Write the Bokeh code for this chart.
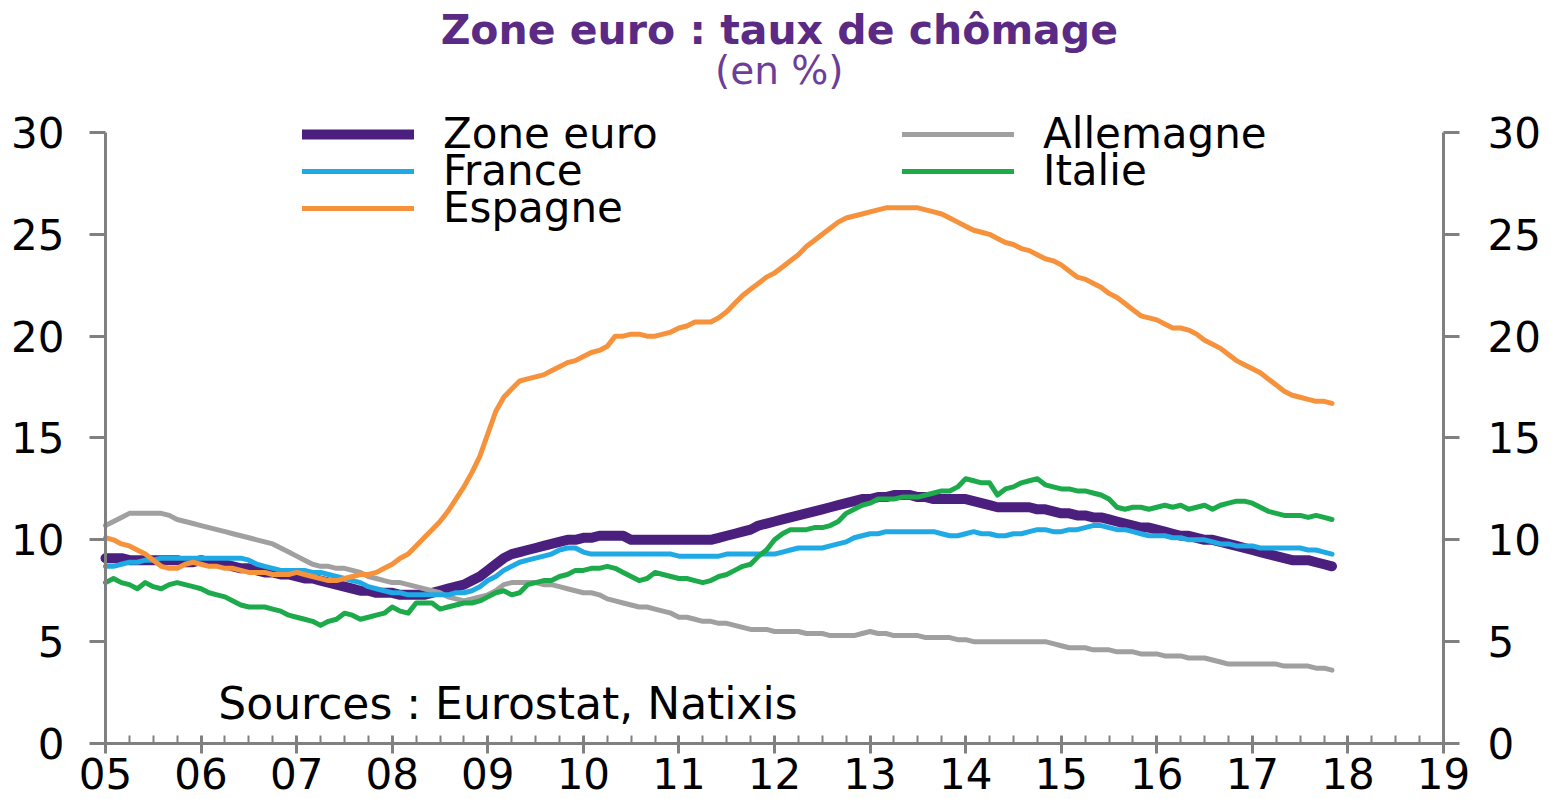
import numpy as np
from bokeh.plotting import figure
from bokeh.models import Range1d, LinearAxis, FixedTicker, Legend, LegendItem, Label
from bokeh.embed import file_html
from bokeh.resources import INLINE

# ---------------- data ----------------
title_text = "Zone euro : taux de chômage"
subtitle_text = "(en %)"
source_text = "Sources :  Eurostat, Natixis"

series_names = ["Zone euro", "France", "Espagne", "Allemagne", "Italie"]
start_year = 2005  # monthly data starting January 2005

year_ticks = list(range(2005, 2020))
year_labels = ["05", "06", "07", "08", "09", "10", "11", "12", "13", "14", "15", "16", "17", "18", "19"]
y_ticks = [0, 5, 10, 15, 20, 25, 30]

zone_euro = [
    9.1, 9.1, 9.1, 9.0, 9.0, 9.0, 9.0, 9.0, 9.0, 9.0, 8.9, 8.9,
    9.0, 8.9, 8.9, 8.8, 8.7, 8.6, 8.6, 8.5, 8.4, 8.4, 8.3, 8.3,
    8.2, 8.1, 8.1, 8.0, 7.9, 7.8, 7.7, 7.6, 7.5, 7.5, 7.4, 7.4,
    7.4, 7.3, 7.3, 7.3, 7.3, 7.4, 7.5, 7.6, 7.7, 7.8, 8.0, 8.2,
    8.5, 8.8, 9.1, 9.3, 9.4, 9.5, 9.6, 9.7, 9.8, 9.9, 10.0, 10.0,
    10.1, 10.1, 10.2, 10.2, 10.2, 10.2, 10.0, 10.0, 10.0, 10.0, 10.0, 10.0,
    10.0, 10.0, 10.0, 10.0, 10.0, 10.1, 10.2, 10.3, 10.4, 10.5, 10.7, 10.8,
    10.9, 11.0, 11.1, 11.2, 11.3, 11.4, 11.5, 11.6, 11.7, 11.8, 11.9, 12.0,
    12.0, 12.1, 12.1, 12.2, 12.2, 12.2, 12.1, 12.1, 12.0, 12.0, 12.0, 12.0,
    12.0, 11.9, 11.8, 11.7, 11.6, 11.6, 11.6, 11.6, 11.6, 11.5, 11.5, 11.4,
    11.3, 11.3, 11.2, 11.2, 11.1, 11.1, 11.0, 10.9, 10.8, 10.7, 10.6, 10.6,
    10.5, 10.4, 10.3, 10.2, 10.2, 10.1, 10.0, 10.0, 9.9, 9.8, 9.7, 9.6,
    9.5, 9.4, 9.3, 9.2, 9.1, 9.0, 9.0, 9.0, 8.9, 8.8, 8.7,
]

france = [
    8.7, 8.7, 8.8, 8.9, 8.9, 9.0, 9.0, 9.1, 9.1, 9.1, 9.1, 9.1,
    9.1, 9.1, 9.1, 9.1, 9.1, 9.1, 9.0, 8.8, 8.7, 8.6, 8.5, 8.5,
    8.5, 8.5, 8.4, 8.4, 8.3, 8.2, 8.1, 8.0, 7.9, 7.7, 7.6, 7.5,
    7.4, 7.4, 7.3, 7.3, 7.3, 7.3, 7.3, 7.3, 7.4, 7.4, 7.5, 7.7,
    8.0, 8.2, 8.5, 8.7, 8.9, 9.0, 9.1, 9.2, 9.3, 9.5, 9.6, 9.6,
    9.4, 9.3, 9.3, 9.3, 9.3, 9.3, 9.3, 9.3, 9.3, 9.3, 9.3, 9.3,
    9.2, 9.2, 9.2, 9.2, 9.2, 9.2, 9.3, 9.3, 9.3, 9.3, 9.3, 9.3,
    9.3, 9.4, 9.5, 9.6, 9.6, 9.6, 9.6, 9.7, 9.8, 9.9, 10.1, 10.2,
    10.3, 10.3, 10.4, 10.4, 10.4, 10.4, 10.4, 10.4, 10.4, 10.3, 10.2, 10.2,
    10.3, 10.4, 10.3, 10.3, 10.2, 10.2, 10.3, 10.3, 10.4, 10.5, 10.5, 10.4,
    10.4, 10.5, 10.5, 10.6, 10.7, 10.7, 10.6, 10.5, 10.5, 10.4, 10.3, 10.2,
    10.2, 10.2, 10.1, 10.1, 10.0, 10.0, 10.0, 9.9, 9.8, 9.8, 9.7, 9.7,
    9.7, 9.6, 9.6, 9.6, 9.6, 9.6, 9.6, 9.5, 9.5, 9.4, 9.3,
]

espagne = [
    10.1, 10.0, 9.8, 9.7, 9.5, 9.3, 9.0, 8.7, 8.6, 8.6, 8.8, 8.9,
    8.8, 8.7, 8.7, 8.6, 8.6, 8.5, 8.4, 8.4, 8.4, 8.3, 8.3, 8.3,
    8.4, 8.3, 8.2, 8.1, 8.0, 8.0, 8.1, 8.2, 8.3, 8.3, 8.4, 8.6,
    8.8, 9.1, 9.3, 9.7, 10.1, 10.5, 10.9, 11.4, 12.0, 12.6, 13.3, 14.1,
    15.2, 16.3, 17.0, 17.4, 17.8, 17.9, 18.0, 18.1, 18.3, 18.5, 18.7, 18.8,
    19.0, 19.2, 19.3, 19.5, 20.0, 20.0, 20.1, 20.1, 20.0, 20.0, 20.1, 20.2,
    20.4, 20.5, 20.7, 20.7, 20.7, 20.9, 21.2, 21.6, 22.0, 22.3, 22.6, 22.9,
    23.1, 23.4, 23.7, 24.0, 24.4, 24.7, 25.0, 25.3, 25.6, 25.8, 25.9, 26.0,
    26.1, 26.2, 26.3, 26.3, 26.3, 26.3, 26.3, 26.2, 26.1, 26.0, 25.8, 25.6,
    25.4, 25.2, 25.1, 25.0, 24.8, 24.6, 24.5, 24.3, 24.2, 24.0, 23.8, 23.7,
    23.5, 23.2, 22.9, 22.8, 22.6, 22.4, 22.1, 21.9, 21.6, 21.3, 21.0, 20.9,
    20.8, 20.6, 20.4, 20.4, 20.3, 20.1, 19.8, 19.6, 19.4, 19.1, 18.8, 18.6,
    18.4, 18.2, 17.9, 17.6, 17.3, 17.1, 17.0, 16.9, 16.8, 16.8, 16.7,
]

allemagne = [
    10.7, 10.9, 11.1, 11.3, 11.3, 11.3, 11.3, 11.3, 11.2, 11.0, 10.9, 10.8,
    10.7, 10.6, 10.5, 10.4, 10.3, 10.2, 10.1, 10.0, 9.9, 9.8, 9.6, 9.4,
    9.2, 9.0, 8.8, 8.7, 8.7, 8.6, 8.6, 8.5, 8.4, 8.2, 8.1, 8.0,
    7.9, 7.9, 7.8, 7.7, 7.6, 7.5, 7.4, 7.2, 7.1, 7.0, 7.1, 7.2,
    7.3, 7.5, 7.8, 7.9, 7.9, 7.9, 7.9, 7.8, 7.8, 7.7, 7.6, 7.5,
    7.4, 7.4, 7.3, 7.1, 7.0, 6.9, 6.8, 6.7, 6.7, 6.6, 6.5, 6.4,
    6.2, 6.2, 6.1, 6.0, 6.0, 5.9, 5.9, 5.8, 5.7, 5.6, 5.6, 5.6,
    5.5, 5.5, 5.5, 5.5, 5.4, 5.4, 5.4, 5.3, 5.3, 5.3, 5.3, 5.4,
    5.5, 5.4, 5.4, 5.3, 5.3, 5.3, 5.3, 5.2, 5.2, 5.2, 5.2, 5.1,
    5.1, 5.0, 5.0, 5.0, 5.0, 5.0, 5.0, 5.0, 5.0, 5.0, 5.0, 4.9,
    4.8, 4.7, 4.7, 4.7, 4.6, 4.6, 4.6, 4.5, 4.5, 4.5, 4.4, 4.4,
    4.4, 4.3, 4.3, 4.3, 4.2, 4.2, 4.2, 4.1, 4.0, 3.9, 3.9, 3.9,
    3.9, 3.9, 3.9, 3.9, 3.8, 3.8, 3.8, 3.8, 3.7, 3.7, 3.6,
]

italie = [
    7.9, 8.1, 7.9, 7.8, 7.6, 7.9, 7.7, 7.6, 7.8, 7.9, 7.8, 7.7,
    7.6, 7.4, 7.3, 7.2, 7.0, 6.8, 6.7, 6.7, 6.7, 6.6, 6.5, 6.3,
    6.2, 6.1, 6.0, 5.8, 6.0, 6.1, 6.4, 6.3, 6.1, 6.2, 6.3, 6.4,
    6.7, 6.5, 6.4, 6.9, 6.9, 6.9, 6.6, 6.7, 6.8, 6.9, 6.9, 7.0,
    7.2, 7.4, 7.5, 7.3, 7.4, 7.8, 7.9, 8.0, 8.0, 8.2, 8.3, 8.5,
    8.5, 8.6, 8.6, 8.7, 8.6, 8.4, 8.2, 8.0, 8.1, 8.4, 8.3, 8.2,
    8.1, 8.1, 8.0, 7.9, 8.0, 8.2, 8.3, 8.5, 8.7, 8.8, 9.2, 9.5,
    10.0, 10.3, 10.5, 10.5, 10.5, 10.6, 10.6, 10.7, 10.9, 11.3, 11.5, 11.7,
    11.8, 12.0, 12.0, 12.0, 12.1, 12.1, 12.1, 12.2, 12.3, 12.4, 12.4, 12.6,
    13.0, 12.9, 12.8, 12.8, 12.2, 12.5, 12.6, 12.8, 12.9, 13.0, 12.7, 12.6,
    12.5, 12.5, 12.4, 12.4, 12.3, 12.2, 12.0, 11.6, 11.5, 11.6, 11.6, 11.5,
    11.6, 11.7, 11.6, 11.7, 11.5, 11.6, 11.7, 11.5, 11.7, 11.8, 11.9, 11.9,
    11.8, 11.6, 11.4, 11.3, 11.2, 11.2, 11.2, 11.1, 11.2, 11.1, 11.0,
]

# ---------------- styles ----------------
FONT = "DejaVu Sans"
AXIS_GREY = "#808080"
colors = {
    "Zone euro": "#4B1F7E",
    "France": "#1FAAE6",
    "Espagne": "#F7923C",
    "Allemagne": "#A0A0A0",
    "Italie": "#1DAA4B",
}
widths = {"Zone euro": 10, "France": 5, "Espagne": 5, "Allemagne": 5, "Italie": 5}
series = {
    "Zone euro": zone_euro,
    "France": france,
    "Espagne": espagne,
    "Allemagne": allemagne,
    "Italie": italie,
}

# The frame fills the whole canvas; the axes are pinned at the data edges
W, H = 1551, 799
p = figure(
    width=W, height=H,
    x_range=Range1d(2003.9013, 2020.1300), y_range=Range1d(-2.7496, 36.481),
    output_backend="svg", toolbar_location=None,
    min_border=0, min_border_left=0, min_border_right=0, min_border_top=0, min_border_bottom=0,
)
p.outline_line_color = None
p.xgrid.visible = False
p.ygrid.visible = False
p.background_fill_color = "white"
p.border_fill_color = "white"

# x axis
xa = p.xaxis[0]
xa.fixed_location = 0
xa.bounds = (2005, 2019)
xa.ticker = FixedTicker(ticks=year_ticks,
                        minor_ticks=[y + q / 4 for y in range(2005, 2019) for q in (1, 2, 3)])
xa.major_label_overrides = {y: l for y, l in zip(year_ticks, year_labels)}
xa.axis_line_color = AXIS_GREY
xa.axis_line_width = 3
xa.major_tick_line_color = AXIS_GREY
xa.major_tick_line_width = 3
xa.minor_tick_line_color = AXIS_GREY
xa.minor_tick_line_width = 2
xa.major_tick_in = 8
xa.major_tick_out = 10
xa.minor_tick_in = 8
xa.minor_tick_out = 0
xa.major_label_standoff = 5
xa.major_label_text_font = FONT
xa.major_label_text_font_size = "42px"
xa.major_label_text_color = "black"

# y axes (left and right)
ra = LinearAxis()
p.add_layout(ra, "right")
la = p.yaxis[0]
la.fixed_location = 2005
ra.fixed_location = 2019
for ax, standoff in ((la, 25), (ra, 28)):
    ax.bounds = (0, 30)
    ax.ticker = FixedTicker(ticks=y_ticks)
    ax.axis_line_color = AXIS_GREY
    ax.axis_line_width = 3
    ax.major_tick_line_color = AXIS_GREY
    ax.major_tick_line_width = 3
    ax.major_tick_in = 0
    ax.major_tick_out = 16
    ax.minor_tick_line_color = None
    ax.major_label_standoff = standoff
    ax.major_label_text_font = FONT
    ax.major_label_text_font_size = "42px"
    ax.major_label_text_color = "black"

# lines
renderers = {}
draw_order = ["Zone euro", "Allemagne", "France", "Italie", "Espagne"]
for name in draw_order:
    vals = series[name]
    xs = start_year + np.arange(len(vals)) / 12.0
    renderers[name] = p.line(xs, vals, line_color=colors[name], line_width=widths[name],
                             line_cap="round", line_join="round")

# legends (one per row, placed as in the original; screen px from bottom-left)
legend_pos = {
    "Zone euro": (302, 641),
    "France": (302, 604),
    "Espagne": (302, 567),
    "Allemagne": (902, 641),
    "Italie": (902, 604),
}
for name in series_names:
    lg = Legend(items=[LegendItem(label=name, renderers=[renderers[name]])],
                location=legend_pos[name], orientation="vertical",
                padding=0, margin=0, spacing=0,
                glyph_width=112, glyph_height=40, label_height=40, label_standoff=29,
                label_text_font=FONT, label_text_font_size="42px", label_text_color="black",
                border_line_alpha=0, background_fill_alpha=0)
    p.add_layout(lg, "center")

# titles and source note
p.add_layout(Label(x=2012.05, y=35.01, text=title_text, text_align="center", text_baseline="middle",
                   text_font=FONT, text_font_style="bold", text_font_size="41px",
                   text_color="#5A2A84"))
p.add_layout(Label(x=2012.05, y=33.04, text=subtitle_text, text_align="center", text_baseline="middle",
                   text_font=FONT, text_font_size="39px", text_color="#6B3E99"))
p.add_layout(Label(x=2006.18, y=1.96, text=source_text, text_align="left", text_baseline="middle",
                   text_font=FONT, text_font_size="44px", text_color="black"))

open("out.html", "w").write(file_html(p, INLINE))
